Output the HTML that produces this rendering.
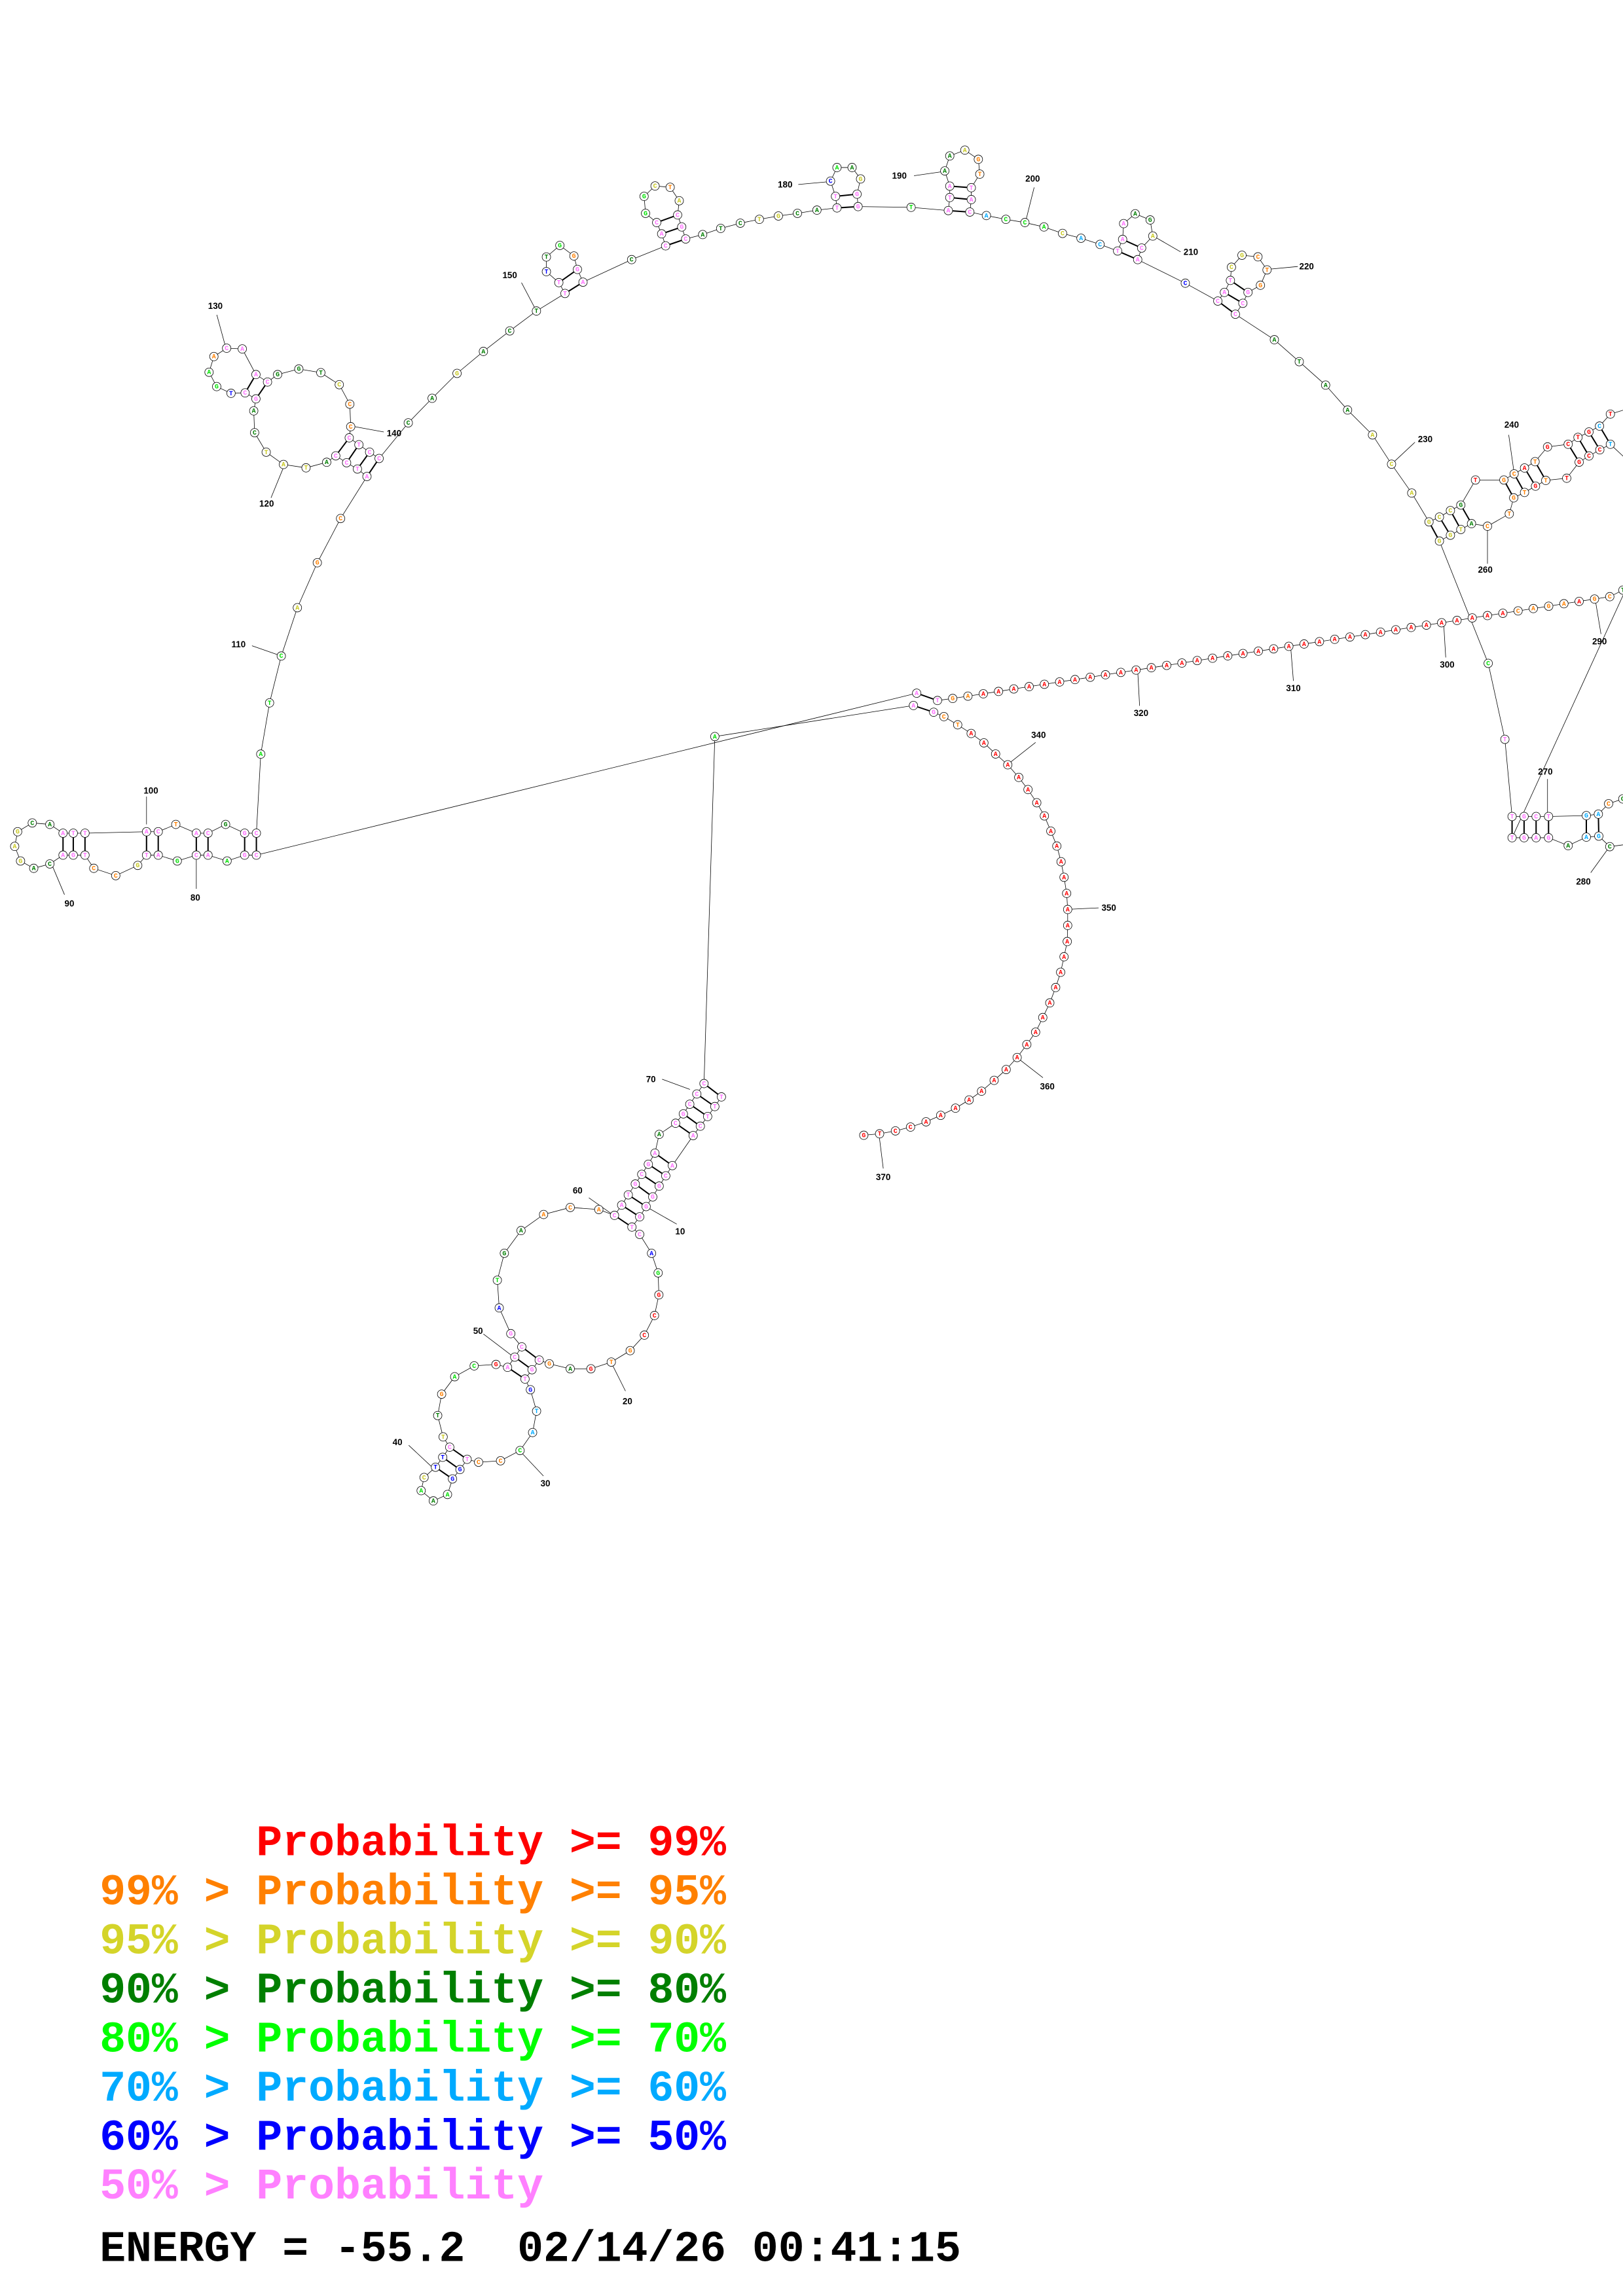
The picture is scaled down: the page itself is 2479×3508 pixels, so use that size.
<!DOCTYPE html>
<html><head><meta charset="utf-8"><style>
html,body{margin:0;padding:0;background:#fff;}
svg{display:block;}
.lg{font-family:"Liberation Mono","DejaVu Sans Mono",monospace;font-weight:bold;font-size:29.7px;}
.lb{font-family:"Liberation Sans",sans-serif;font-weight:bold;font-size:6px;fill:#000;}
.nt{font-family:"Liberation Mono",monospace;font-weight:bold;font-size:4.4px;text-anchor:middle;dominant-baseline:central;}
</style></head><body>
<svg id="s" width="2479" height="3508" viewBox="0 0 1108 1568" xmlns="http://www.w3.org/2000/svg">
<g id="g"></g>
<text class="lg" x="68" y="1267" xml:space="preserve" fill="#ff0000">      Probability &gt;= 99%</text>
<text class="lg" x="68" y="1300.5" xml:space="preserve" fill="#ff8000">99% &gt; Probability &gt;= 95%</text>
<text class="lg" x="68" y="1334" xml:space="preserve" fill="#d4d42a">95% &gt; Probability &gt;= 90%</text>
<text class="lg" x="68" y="1367.5" xml:space="preserve" fill="#007f00">90% &gt; Probability &gt;= 80%</text>
<text class="lg" x="68" y="1401" xml:space="preserve" fill="#00ff00">80% &gt; Probability &gt;= 70%</text>
<text class="lg" x="68" y="1434.5" xml:space="preserve" fill="#00aaff">70% &gt; Probability &gt;= 60%</text>
<text class="lg" x="68" y="1468" xml:space="preserve" fill="#0000ff">60% &gt; Probability &gt;= 50%</text>
<text class="lg" x="68" y="1501.5" xml:space="preserve" fill="#ff80ff">50% &gt; Probability</text>
<text class="lg" x="68" y="1544" xml:space="preserve" fill="#000">ENERGY = -55.2  02/14/26 00:41:15</text>
<text class="lb" x="98" y="542">100</text><text class="lb" x="44" y="619">90</text><text class="lb" x="130" y="615">80</text>
<text class="lb" x="158" y="442">110</text><text class="lb" x="177" y="346">120</text><text class="lb" x="142" y="211">130</text>
<text class="lb" x="264" y="298">140</text><text class="lb" x="343" y="190">150</text><text class="lb" x="531" y="128">180</text>
<text class="lb" x="609" y="122">190</text><text class="lb" x="700" y="124">200</text><text class="lb" x="808" y="174">210</text>
<text class="lb" x="887" y="184">220</text><text class="lb" x="968" y="302">230</text><text class="lb" x="1027" y="292">240</text>
<text class="lb" x="1009" y="391">260</text><text class="lb" x="1050" y="529">270</text><text class="lb" x="1076" y="604">280</text>
<text class="lb" x="1087" y="440">290</text><text class="lb" x="983" y="456">300</text><text class="lb" x="878" y="472">310</text>
<text class="lb" x="774" y="489">320</text><text class="lb" x="704" y="504">340</text><text class="lb" x="752" y="622">350</text>
<text class="lb" x="710" y="744">360</text><text class="lb" x="598" y="806">370</text>
<text class="lb" x="441" y="739">70</text><text class="lb" x="391" y="815">60</text><text class="lb" x="461" y="843">10</text>
<text class="lb" x="323" y="911">50</text><text class="lb" x="425" y="959">20</text><text class="lb" x="369" y="1015">30</text>
<text class="lb" x="268" y="987">40</text>
</svg>
<script>
var C={r:'#ff0000',o:'#ff8000',y:'#c8c820',g:'#007f00',l:'#00e000',b:'#00aaff',B:'#0000ff',p:'#ff70ff'};
var out='',nodes=[],seed=7;
function L(){seed=(seed*9301+49297)%233280;return 'ACGT'[Math.floor(seed/233280*4)];}
function ch(arr){ // arr of [x,y,c]
 out+='<polyline points="'+arr.map(function(p){return p[0]+','+p[1]}).join(' ')+'" fill="none" stroke="#000" stroke-width="0.35"/>';
 arr.forEach(function(p){if(p[2])nodes.push(p);});
}
function ln(x1,y1,x2,y2,w){out+='<line x1="'+x1+'" y1="'+y1+'" x2="'+x2+'" y2="'+y2+'" stroke="#000" stroke-width="'+(w||0.35)+'"/>';}
function bd(a,b){ln(a[0],a[1],b[0],b[1],0.9);}
function P(x,y,c){return [x,y,c];}
// left structure
var t=[P(43,569,'p'),P(50,569,'p'),P(58,569,'p'),P(100,568,'p'),P(108,568,'p'),P(120,563,'o'),P(134,569,'p'),P(142,569,'p'),P(154,563,'g'),P(167,569,'p'),P(175,569,'p')];
var b=[P(43,584,'p'),P(50,584,'p'),P(58,584,'p'),P(64,593,'o'),P(79,598,'o'),P(94,591,'y'),P(100,584,'p'),P(108,584,'p'),P(121,588,'l'),P(134,584,'p'),P(142,584,'p'),P(155,588,'l'),P(167,584,'p'),P(175,584,'p')];
var lp=[P(34,590,'g'),P(23,593,'g'),P(14,588,'y'),P(10,578,'y'),P(12,568,'y'),P(22,562,'g'),P(34,563,'g')];
[[0,0],[1,1],[2,2],[3,6],[4,7],[6,9],[7,10],[9,12],[10,13]].forEach(function(q){bd(t[q[0]],b[q[1]]);});
var arc1=[P(178,515,'l'),P(184,480,'l'),P(192,448,'l'),P(203,415,'y'),P(216.6,384.3,'o'),P(232.5,354.1,'o')];
var s1=[P(238.4,299,'p'),P(245,303.7,'p'),P(252.3,308.8,'p'),P(258.8,313.1,'p')];
var s2=[P(229.2,311.3,'p'),P(236.6,316,'p'),P(244,320.3,'p'),P(250.5,325.4,'p')];
for(var i=0;i<4;i++)bd(s1[i],s2[i]);
var hb=[P(174.7,255.8,'p'),P(182.6,260.9,'p')],ha=[P(167.3,268.3,'p'),P(174.7,272.4,'p')];
bd(hb[0],ha[0]);bd(hb[1],ha[1]);
var A=[].concat(b.slice().reverse(),lp,t,arc1,s2.slice().reverse(),
 [P(223,315.7,'g'),P(208.9,319.5,'y'),P(193.5,317.2,'y'),P(181.7,308.8,'y'),P(173.8,295.5,'g'),P(173.2,280.6,'g'),ha[1],ha[0],
 P(157.7,268.6,'B'),P(147.9,264,'l'),P(142.7,254.2,'l'),P(146,243.5,'o'),P(154.7,237.8,'p'),P(165.4,238.3,'p'),hb[0],hb[1],
 P(189.5,255.8,'g'),P(204,252,'g'),P(219,254.5,'g'),P(231.6,262.7,'y'),P(238.8,276,'o'),P(239.4,291.4,'o')],s1,
 [P(278.7,288.8,'g'),P(295,272,'g'),P(312,255,'y'),P(330,240,'g'),P(348,226,'g'),P(366.2,212.4,'g')]);
// H1
var h1=[P(385.7,200.4,'p'),P(381.5,193,'p'),P(373,185.5,'B'),P(373,175.5,'g'),P(382.2,167.6,'l'),P(391.8,174.8,'o'),P(394.2,184,'p'),P(398,192.7,'p')];
bd(h1[1],h1[6]);bd(h1[0],h1[7]);
var h2=[P(454.4,167.9,'p'),P(451.7,159.7,'p'),P(448.3,152,'p'),P(440.7,145.7,'l'),P(439.7,134.1,'l'),P(447.2,127,'y'),P(457.5,127.9,'o'),P(463.7,137.1,'y'),P(462.6,146.8,'p'),P(465.4,155,'p'),P(468.1,163.2,'p')];
bd(h2[2],h2[8]);bd(h2[1],h2[9]);bd(h2[0],h2[10]);
var mid=[P(479.7,160.2,'g'),P(492,156,'g'),P(505.4,152.4,'g'),P(518.4,149.8,'y'),P(531.4,147.5,'y'),P(544.4,145.7,'g'),P(557.7,143.5,'g')];
var h3=[P(571.4,142,'p'),P(570.4,134.1,'p'),P(567,123.7,'B'),P(571.4,114.4,'l'),P(581.7,114.4,'g'),P(587.5,122.2,'y'),P(585.1,132.6,'p'),P(585.8,141.1,'p')];
bd(h3[1],h3[6]);bd(h3[0],h3[7]);
var h4=[P(647.4,143.8,'p'),P(648.4,134.9,'p'),P(648.4,127.1,'p'),P(645,116.7,'g'),P(648.4,106.5,'g'),P(658.7,102.5,'y'),P(667.9,108.8,'o'),P(668.9,118.9,'o'),P(663.1,128.2,'p'),P(663.1,136.3,'p'),P(662.1,144.8,'p')];
bd(h4[2],h4[8]);bd(h4[1],h4[9]);bd(h4[0],h4[10]);
var mid2=[P(673.4,147.2,'b'),P(686.7,149.8,'l'),P(699.7,152,'l'),P(712.7,155,'l'),P(725.4,159.4,'y'),P(738,162.7,'b'),P(751,166.9,'b')];
var h5=[P(763,171.4,'p'),P(766.4,163.5,'p'),P(767.1,152.7,'p'),P(775,146,'g'),P(785.2,150.2,'g'),P(787,161.2,'y'),P(779.4,169.4,'p'),P(776.7,177.3,'p')];
bd(h5[1],h5[6]);bd(h5[0],h5[7]);
var h6=[P(831.4,205.6,'p'),P(835.9,199.7,'p'),P(840,191.5,'p'),P(840.7,182.5,'y'),P(847.9,174.3,'y'),P(858.8,175.4,'o'),P(865,184.3,'o'),P(860.5,194.8,'o'),P(852,199.7,'p'),P(848.5,207.1,'p'),P(843.4,214.6,'p')];
bd(h6[2],h6[8]);bd(h6[1],h6[9]);bd(h6[0],h6[10]);
var arc2=[P(870,232,'g'),P(887,247,'g'),P(905,263,'g'),P(920,280,'g'),P(937,297,'y'),P(950,317,'y'),P(963.8,336.7,'y')];
// right structure
var r1=[P(975.6,356.4,'y'),P(982.7,353.1,'y'),P(990.2,348.7,'y'),P(997.3,344.9,'g')];
var r1b=[P(982.7,369.5,'y'),P(990.2,365.5,'y'),P(997.3,361.6,'y'),P(1004.6,357.6,'g')];
for(i=0;i<4;i++)bd(r1[i],r1b[i]);
var r2=[P(1026.7,327.8,'o'),P(1033.7,323.6,'o'),P(1040.8,319.6,'r'),P(1048,315.3,'o')];
var r2b=[P(1033.4,340,'o'),P(1040.8,336.3,'o'),P(1048.3,332,'r'),P(1055.3,328.1,'o')];
for(i=0;i<4;i++)bd(r2[i],r2b[i]);
var r3=[P(1070.6,303.4,'r'),P(1077.3,298.7,'r'),P(1084.8,295,'r'),P(1092,291,'b')];
var r3b=[P(1078.1,315.6,'r'),P(1084.8,311.4,'r'),P(1092.2,307.2,'r'),P(1099.4,303.4,'b')];
for(i=0;i<4;i++)bd(r3[i],r3b[i]);
A=A.concat(h1,[P(431.2,177.3,'g')],h2,mid,h3,[P(622,141.6,'l')],h4,mid2,h5,[P(809.2,193.4,'B')],h6,arc2,r1,[P(1007.3,327.8,'r')],r2,[P(1056.5,305.2,'r')],r3,[P(1099.4,282.8,'r'),[1115,278]]);
ch(A);
ch([[1115,318],r3b[3],r3b[2],r3b[1],r3b[0],P(1069.6,326.6,'r'),r2b[3],r2b[2],r2b[1],r2b[0],P(1030.4,350.9,'o'),P(1015.5,359.4,'o'),r1b[3],r1b[2],r1b[1],r1b[0],
 P(1016,453,'l'),P(1027.4,504.9,'p'),P(1032.3,557.6,'p'),P(1040.5,557.6,'p'),P(1048.7,557.6,'p'),P(1057.2,557.6,'p'),P(1083,557,'b'),P(1091.2,556,'b'),P(1098.2,548.9,'o'),P(1107.9,545.6,'g'),[1115,543]]);
var rb=[P(1032.3,572.1,'p'),P(1040.5,572.1,'p'),P(1048.7,572.1,'p'),P(1057.2,572.1,'p'),P(1070.6,577.5,'g'),P(1083,571.7,'b'),P(1091.5,571,'b'),P(1099,578.2,'g'),[1115,576]];
ch(rb);
bd([1032.3,557.6],[1032.3,572.1]);bd([1040.5,557.6],[1040.5,572.1]);bd([1048.7,557.6],[1048.7,572.1]);bd([1057.2,557.6],[1057.2,572.1]);bd([1083,557],[1083,571.7]);bd([1091.2,556],[1091.5,571]);
ln(1032.3,572.1,1112,398);
// junction stem + red line
var jC=P(625.8,473.4,'p'),jG=P(640,478.4,'p'),jT=P(623.6,481.8,'p'),jA=P(637.4,486.4,'p');
bd(jC,jG);bd(jT,jA);
var red=[jC,jG];
var x0=650.4,y0=477,x1=1099,y1=407.5,n=43;
for(i=0;i<=n;i++){var f=i/n;var k=n-i;var c='r';
 if(i<2)c='o';if(k<=6&&k!=2&&k!=7)c='o';if(k==0)c='o';
 red.push(P(+(x0+(x1-x0)*f).toFixed(1),+(y0+(y1-y0)*f).toFixed(1),c));}
red.push(P(1108,403,'g'));red.push([1115,401]);
ch(red);
var arcC=[[644.4,489.4],[653.8,495],[663,500.9],[671.7,507.3],[679.7,514.9],[688,522.3],[695.5,530.9],[701.8,539.2],[707.8,548.2],[713,557.2],[717.4,567.6],[721.5,577.8],[724.4,588.5],[726.4,599.1],[728.2,610.1],[728.9,621.1],[728.9,632],[728.6,643],[726.4,653.4],[724.1,664],[720.7,674.4],[716.7,684.9],[711.9,694.9],[707,704.9],[701,713.3],[694.4,722.2],[686.9,730.4],[678.7,737.8],[670.1,745.2],[661.6,751.2],[652.3,756.8],[642.2,761.7],[632.2,766.1],[621.6,769.7],[611.3,772.3],[600.5,774.3],[589.7,775.3]];
ch([jT,jA].slice(1).concat(arcC.map(function(p,j){return P(p[0],p[1],j<2?'o':'r');})));
ln(jT[0],jT[1],jA[0],jA[1],0.35);
// long link lines
ln(175,584,625.8,473.4);
// bottom structure
var g0=P(488,503,'l');
var s1a=[P(480.6,740,'p'),P(475.7,747.1,'p'),P(470.9,754.1,'p'),P(466.5,760.7,'p'),P(461.2,767.1,'p')];
var s1b=[P(492.5,749.1,'p'),P(488,755.7,'p'),P(483.1,762.5,'p'),P(478.1,769.1,'p'),P(473.2,775.5,'p')];
for(i=0;i<5;i++)bd(s1a[i],s1b[i]);
var s2a=[P(447.1,787.5,'p'),P(442.6,795.1,'p'),P(438.1,802,'p'),P(433.7,808.6,'p'),P(428.9,816,'p'),P(424.4,823,'p'),P(419.5,830,'p')];
var s2b=[P(459,796,'p'),P(454.5,803,'p'),P(450,810,'p'),P(445.6,817.4,'p'),P(441.1,824,'p'),P(436.7,831,'p'),P(431.4,838,'p')];
for(i=0;i<7;i++)bd(s2a[i],s2b[i]);
var s3a=[P(356.2,919.8,'p'),P(351.4,926.8,'p'),P(346.5,933.8,'p')];
var s3b=[P(368.1,928.8,'p'),P(363.2,935.4,'p'),P(358.4,941.8,'p')];
for(i=0;i<3;i++)bd(s3a[i],s3b[i]);
var s4a=[P(307,988.3,'p'),P(302.2,995.2,'B'),P(297.3,1002,'B')];
var s4b=[P(318.9,996.6,'p'),P(314,1003.6,'B'),P(308.9,1010,'B')];
for(i=0;i<3;i++)bd(s4a[i],s4b[i]);
ch([].concat([P(625.8,477,null)].slice(0,0),[jT,g0],s1a,[P(450,774.7,'g')],s2a,
 [P(408.8,826,'o'),P(389.3,824.6,'o'),P(371.1,829.4,'o'),P(355.7,840.4,'g'),P(344.3,855.9,'g'),P(339.5,874.3,'l'),P(340.8,893.2,'B'),P(348.7,910.8,'p')],s3a,
 [P(338.6,931.8,'r'),P(323.7,932.8,'l'),P(310.4,940.2,'l'),P(301.5,952.1,'o'),P(298.8,966.7,'g'),P(302.5,981.3,'y')],s4a,
 [P(289.5,1009,'y'),P(287.5,1018,'l'),P(295.8,1025,'g'),P(305.5,1020.6,'l')],s4b.slice().reverse(),
 [P(326.7,998.6,'o'),P(341.7,997.6,'o'),P(355,990.6,'l'),P(363.6,978.3,'b'),P(366.3,963.7,'b'),P(362.1,949.1,'B')],s3b.slice().reverse(),
 [P(375,931.4,'o'),P(389.3,934.8,'g'),P(403.4,934.8,'r'),P(417.3,930.2,'o'),P(430.2,922.4,'o'),P(439.9,911.8,'r'),P(446.8,898.4,'r'),P(449.8,884.3,'r'),P(449.3,869.3,'l'),P(444.8,855.9,'B'),P(436.7,843,'p')],
 s2b.slice().reverse(),s1b.slice().reverse()));
// label leader lines
[[100,563,100,544],[36,592,44,611],[134,587,134,607],[192,448,172,441],[194,318,185,340],[154,237,148,215],[240,291,262,295],[366,212,356,193],[567,124,545,126],[645,117,624,120],[700,152,706,128],[787,161,806,172],[865,184,886,182],[950,317,966,302],[1033.7,323,1030,297],[1015.5,362,1015.5,385],[1056.5,557,1056.5,532],[1099,578,1086,596],[1089,409,1093,433],[985.5,424,987,449],[881,440,883,465],[776.6,456,778,482],[688,522,707,507],[729,621,750,620],[694,722,712,736],[600,774,603,798],[471,744,452,737],[419,830,402,818],[441,824,462,836],[351,927,330,911],[417,930,427,950],[355,991,371,1008],[295,1002,279,987]].forEach(function(q){ln(q[0],q[1],q[2],q[3]);});
// nodes
nodes.forEach(function(p){
 out+='<circle cx="'+p[0]+'" cy="'+p[1]+'" r="2.9" fill="#fff" stroke="#000" stroke-width="0.35"/>';
 var l=(p[1]>400&&p[0]>640&&p[2]=='r')?'A':L();
 out+='<text class="nt" x="'+p[0]+'" y="'+(p[1]+0.2)+'" fill="'+C[p[2]]+'">'+l+'</text>';
});
document.getElementById('g').innerHTML=out;
</script>
</body></html>
